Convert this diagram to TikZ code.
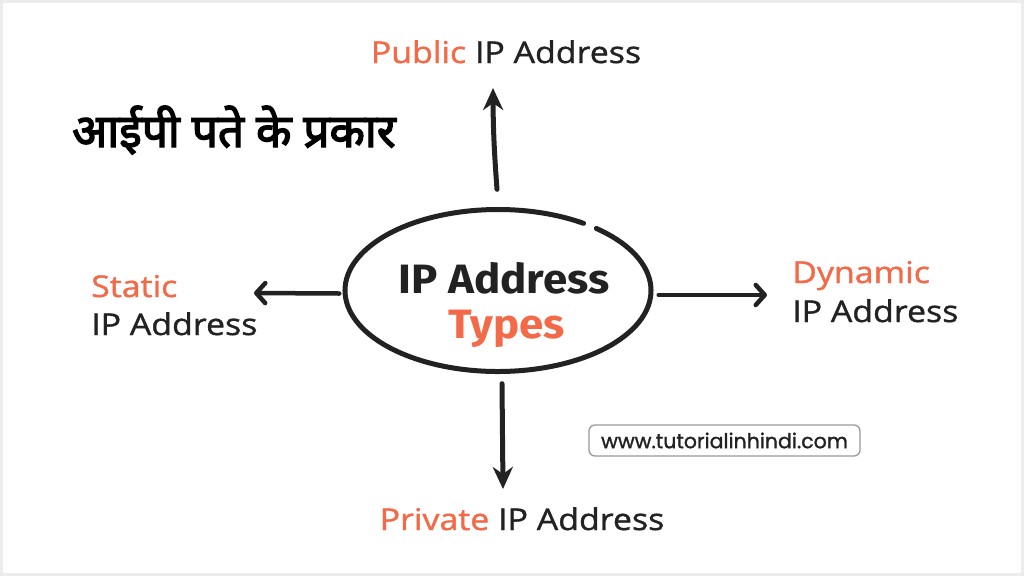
\documentclass[tikz,border=0pt]{standalone}
\usepackage{fontspec}
\usetikzlibrary{arrows.meta,shapes.geometric,calc}
\setmainfont{Open Sans}
\newfontfamily\labf[FakeStretch=1.13,FakeBold=1.2]{Open Sans}
\newfontfamily\ctrf[FakeStretch=1.07]{Fira Sans}
\newfontfamily\urlf[FakeBold=1.2]{Poppins}
\newfontfamily\hindi[Script=Devanagari,FakeBold=3]{Noto Sans}
\definecolor{orng}{HTML}{F26A47}
\definecolor{ink}{HTML}{222222}
\definecolor{bgray}{HTML}{ECECEC}
\tikzset{
  lab/.style={inner sep=0pt, anchor=base west, text=ink, font=\labf\fontsize{30}{34}\selectfont},
  labc/.style={lab, anchor=base},
  ctr/.style={inner sep=0pt, anchor=base, font=\ctrf\bfseries\fontsize{41}{46}\selectfont},
  ellin/.style={draw=ink, line width=5pt, line cap=round},
  varr/.style={draw=ink, line width=5pt, line cap=round, -{Stealth[length=22pt,width=20pt,inset=7pt]}},
  harr/.style={draw=ink, line width=4.5pt, line cap=round, -{Straight Barb[length=9pt,width=20pt,round]}},
  urlbox/.style={draw=gray!80, rounded corners=6pt, line width=1.3pt, minimum width=271pt, minimum height=31pt, inner sep=0pt, font=\urlf\fontsize{20.5}{24}\selectfont, text=ink}
}
\begin{document}
\begin{tikzpicture}[x=1pt,y=-1pt]
\fill[bgray] (0,0) rectangle (1024,576);
\fill[white] (3,3) rectangle (1021,573);
\useasboundingbox (0,0) rectangle (1024,576);

% title
\node[inner sep=0pt, anchor=base west, font=\hindi\fontsize{46}{52}\selectfont] (title) at (72,147) {आईपी पते के प्रकार};

% centre ellipse
\node[ellipse, minimum width=307pt, minimum height=162pt, inner sep=0pt] (c) at (498,290.5) {};
\draw[ellin] ($(c.center)+(56:153pt and 81pt)$) arc[start angle=56, end angle=410, x radius=153pt, y radius=81pt];
\node[ctr, text=ink] (ctop) at (504,293) {IP Address};
\node[ctr, text=orng] (cbot) at (507,338) {Types};

% labels
\node[labc] (pub) at (506,63) {\textcolor{orng}{Public} IP Address};
\node[lab, text=orng] (st1) at (91,297) {Static};
\node[lab] (st2) at (91,335) {IP Address};
\node[lab, text=orng] (dy1) at (792,283) {Dynamic};
\node[lab] (dy2) at (792,322) {IP Address};
\node[labc] (pri) at (522,530) {\textcolor{orng}{Private} IP Address};

% arrow tips
\coordinate (upTip) at (493,88);
\coordinate (leftTip) at (254,293);
\coordinate (rightTip) at (767,295);
\coordinate (downTip) at (503,489);

\draw[varr] ([xshift=-1pt,yshift=20pt]c.north) to[bend left=2] (upTip);
\draw[harr] ([xshift=-5pt,yshift=-3pt]c.west) -- (leftTip);
\draw[harr] ([xshift=7pt,yshift=-4.5pt]c.east) -- (rightTip);
\draw[varr] ([xshift=4pt,yshift=-12pt]c.south) -- (downTip);

% url
\node[urlbox] (url) at (724.5,440.5) {www.tutorialinhindi.com};
\end{tikzpicture}
\end{document}
